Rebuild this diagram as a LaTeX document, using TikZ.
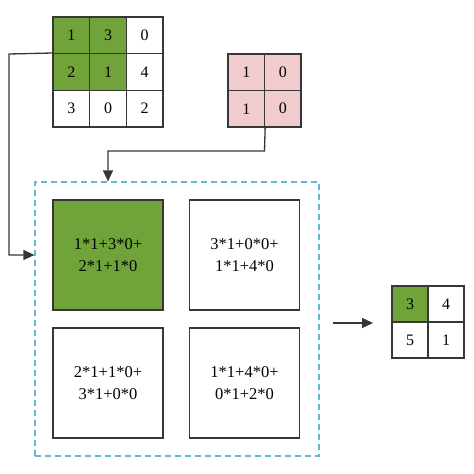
\documentclass[tikz,border=0pt]{standalone}
\usepackage{fontspec}
\setmainfont{Liberation Serif}
\usetikzlibrary{arrows.meta}
\definecolor{cgreen}{RGB}{112,163,58}
\definecolor{cpink}{RGB}{241,203,205}
\definecolor{cblue}{RGB}{95,185,215}
\definecolor{cline}{RGB}{55,55,55}
\tikzset{
  cellA/.style={draw=cline, line width=1.3pt, minimum size=36.67pt, inner sep=0pt, font=\fontsize{16}{18}\selectfont},
  cellB/.style={draw=cline, line width=1.3pt, minimum size=36.5pt, inner sep=0pt, font=\fontsize{16}{18}\selectfont},
  cellC/.style={draw=cline, line width=1.3pt, minimum size=36pt, inner sep=0pt, font=\fontsize{16}{18}\selectfont},
  bigbox/.style={draw=cline, line width=1.3pt, minimum size=110pt, inner sep=0pt, align=center, font=\fontsize{16.5}{22}\selectfont},
  conn/.style={draw=cline, line width=1.3pt},
  tip/.style={-{Triangle[length=11pt,width=10pt]}}
}
\begin{document}
\begin{tikzpicture}[x=1pt,y=1pt]
\useasboundingbox (0,0) rectangle (474,474);
% input 3x3
\node[cellA, fill=cgreen] (a11) at (71.33,438.67) {1};
\node[cellA, fill=cgreen] (a12) at (108,438.67) {3};
\node[cellA] (a13) at (144.67,438.67) {0};
\node[cellA, fill=cgreen] (a21) at (71.33,402) {2};
\node[cellA, fill=cgreen] (a22) at (108,402) {1};
\node[cellA] (a23) at (144.67,402) {4};
\node[cellA] (a31) at (71.33,365.33) {3};
\node[cellA] (a32) at (108,365.33) {0};
\node[cellA] (a33) at (144.67,365.33) {2};
% kernel
\node[cellB, fill=cpink] (k11) at (246.25,401.75) {1};
\node[cellB, fill=cpink] (k12) at (282.75,401.75) {0};
\node[cellB, fill=cpink] (k21) at (246.25,365.25) {1};
\node[cellB, fill=cpink] (k22) at (282.75,365.25) {0};
% dashed box
\node[draw=cblue, dash pattern=on 6pt off 4pt, line width=1.2pt, minimum width=284pt, minimum height=274pt, inner sep=0pt] (dash) at (177,155) {};
\node[bigbox, fill=cgreen] (b1) at (108,219) {1*1+3*0+\\2*1+1*0};
\node[bigbox] (b2) at (244.5,219) {3*1+0*0+\\1*1+4*0};
\node[bigbox] (b3) at (108,91) {2*1+1*0+\\3*1+0*0};
\node[bigbox] (b4) at (244.5,91) {1*1+4*0+\\0*1+2*0};
% output
\node[cellC, fill=cgreen] (o11) at (410,170) {3};
\node[cellC] (o12) at (446,170) {4};
\node[cellC] (o21) at (410,134) {5};
\node[cellC] (o22) at (446,134) {1};
% connectors
\coordinate (lt) at (9,420);
\coordinate (kd) at (264.5,323);
\draw[conn, tip] (a21.north west) -- (lt) |- (b1.west -| dash.west);
\draw[conn, tip] (k21.south east) -- (kd) -| (b1.north |- dash.north);
\coordinate (as) at (333,151);
\coordinate (ae) at (373,151);
\draw[conn, tip] (as) -- (ae);
\end{tikzpicture}
\end{document}
